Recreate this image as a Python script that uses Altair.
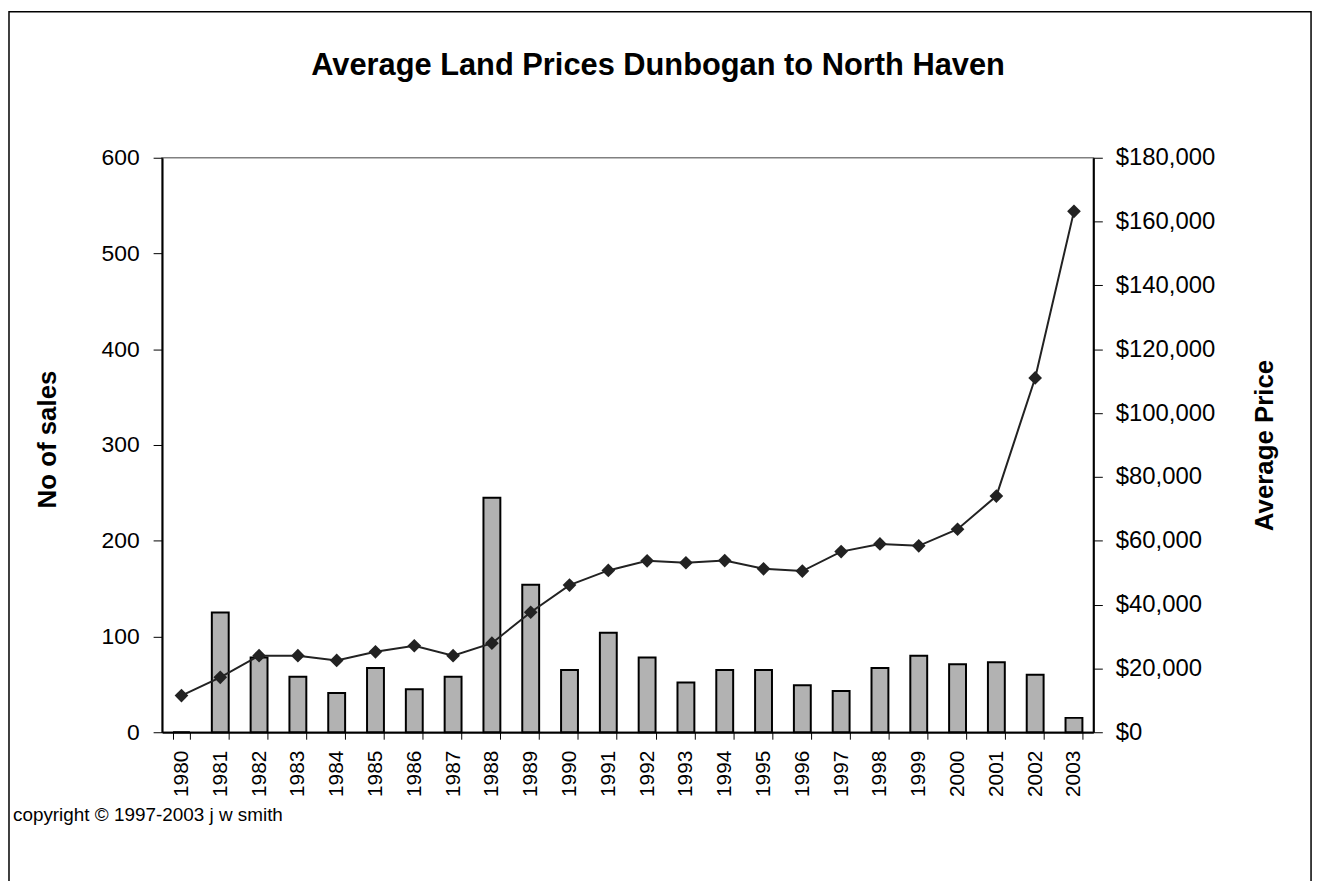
import altair as alt
import pandas as pd

years = [str(y) for y in range(1980, 2004)]
sales = [0, 125, 78, 58, 41, 67, 45, 58, 245, 154, 65, 104,
         78, 52, 65, 65, 49, 43, 67, 80, 71, 73, 60, 15]
price = [11500, 17200, 24000, 24000, 22500, 25200, 27100, 24000, 27900, 37600, 46100, 50700,
         53700, 53100, 53800, 51200, 50500, 56600, 59000, 58400, 63600, 74000, 111000, 163200]
title_text = "Average Land Prices Dunbogan to North Haven"
note_text = "copyright \u00a9 1997-2003 j w smith"

df = pd.DataFrame({"Year": years, "Sales": sales, "Price": price})

FONT = "Liberation Sans"
W, H = 937, 578

xenc = alt.X("Year:N", sort=years,
             scale=alt.Scale(paddingInner=0.565, paddingOuter=0.2825),
             axis=alt.Axis(title=None, labelAngle=270, labelFontSize=21, labelFont=FONT,
                           labelColor="black", tickBand="extent", tickColor="black",
                           domainColor="black", domainWidth=2, tickSize=7, labelPadding=11))

bars = alt.Chart(df).mark_bar(color="#b2b2b2", stroke="black", strokeWidth=2).encode(
    x=xenc,
    y=alt.Y("Sales:Q", scale=alt.Scale(domain=[0, 600], nice=False),
            axis=alt.Axis(title="No of sales", values=[0, 100, 200, 300, 400, 500, 600],
                          grid=False, labelFontSize=23, labelFont=FONT, labelColor="black",
                          titleFont=FONT, titleFontSize=26, titleFontWeight="bold",
                          titleColor="black", titleAngle=270, titleX=-115, titleY=283,
                          titleAlign="center", titleBaseline="middle",
                          domainColor="black", domainWidth=2, tickColor="black",
                          tickSize=9, labelPadding=14)),
)

line = alt.Chart(df).mark_line(color="#222222", strokeWidth=2,
                               point=alt.OverlayMarkDef(shape="diamond", size=190,
                                                        filled=True, color="#222222")).encode(
    x=alt.X("Year:N", sort=years),
    y=alt.Y("Price:Q", scale=alt.Scale(domain=[0, 180000], nice=False),
            axis=alt.Axis(title="Average Price", orient="right", format="$,.0f",
                          values=list(range(0, 180001, 20000)), grid=False,
                          labelFontSize=24, labelFont=FONT, labelColor="black",
                          titleFont=FONT, titleFontSize=26, titleFontWeight="bold",
                          titleColor="black", titleAngle=270, titleX=172, titleY=289,
                          titleAlign="center", titleBaseline="middle",
                          domainColor="black", domainWidth=2, tickColor="black",
                          tickSize=9, labelPadding=13)),
)

title = alt.Chart(pd.DataFrame({"t": [title_text]})).mark_text(
    align="center", baseline="alphabetic", font=FONT, fontSize=31, fontWeight="bold",
    color="black").encode(text="t:N", x=alt.value(499), y=alt.value(-83))

note = alt.Chart(pd.DataFrame({"t": [note_text]})).mark_text(
    align="left", baseline="middle", font=FONT, fontSize=19, color="black").encode(
    text="t:N", x=alt.value(-150), y=alt.value(661))

frame = alt.Chart(pd.DataFrame({"a": [0]})).mark_rect(
    fill=None, stroke="black", strokeWidth=1.5).encode(
    x=alt.value(-154), x2=alt.value(1156), y=alt.value(-147), y2=alt.value(760))

chart = alt.layer(bars, line, title, note, frame).resolve_scale(y="independent").properties(
    width=W, height=H,
    autosize=alt.AutoSizeParams(type="none"),
    padding={"left": 155, "top": 148, "right": 226, "bottom": 147},
).configure_view(stroke="#808080", strokeWidth=1.5)

chart.save("out.html", embed_options={"renderer": "svg", "actions": False})
